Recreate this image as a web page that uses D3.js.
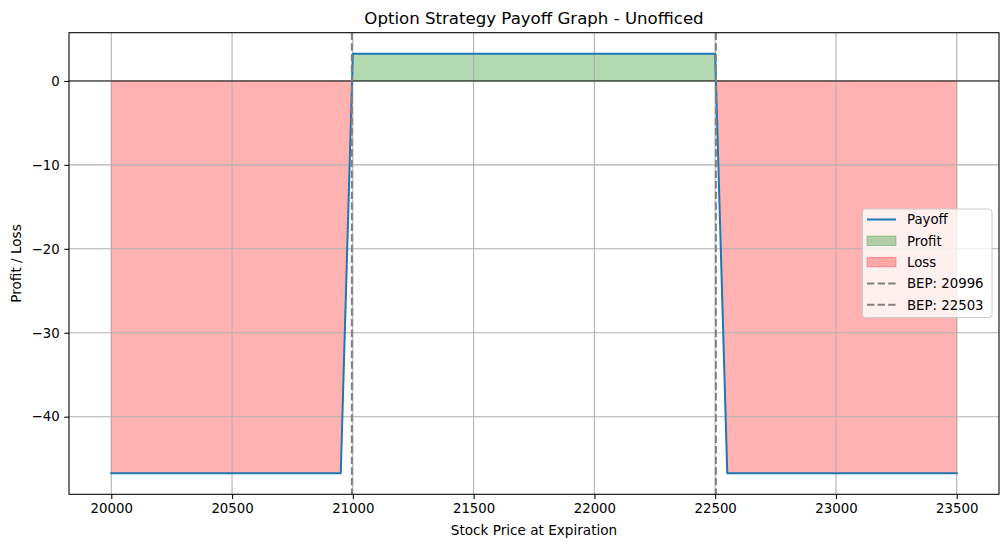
<!DOCTYPE html>
<html><head><meta charset="utf-8">
<script src="https://cdn.jsdelivr.net/npm/d3@7"></script>
<style>
html,body{margin:0;padding:0;background:#fff;}
text{font-family:"DejaVu Sans",sans-serif;fill:#000;}
</style></head>
<body>
<svg id="chart" width="1008" height="547"></svg>
<script>
// ---- data ----
const prices = [20000, 20950, 21000, 22500, 22550, 23500];
const payoff = [-46.75, -46.75, 3.25, 3.25, -46.75, -46.75];
const breakEvens = [20996, 22503];
const xTicks = [20000, 20500, 21000, 21500, 22000, 22500, 23000, 23500];
const yTicks = [0, -10, -20, -30, -40];
const title = "Option Strategy Payoff Graph - Unofficed";
const xLabel = "Stock Price at Expiration";
const yLabel = "Profit / Loss";
const legendLabels = ["Payoff", "Profit", "Loss", "BEP: 20996", "BEP: 22503"];

// ---- layout ----
const W = 1008, H = 547;
const m = {left: 69, right: 999, top: 32.7, bottom: 494.3};
const svg = d3.select("#chart");

const x = d3.scaleLinear().domain([19825, 23675]).range([m.left, m.right]);
const y = d3.scaleLinear().domain([-49.25, 5.75]).range([m.bottom, m.top]);

const pts = prices.map((p, i) => ({x: p, y: payoff[i]}));
// add zero-crossing points for fill interpolation
const filled = [];
for (let i = 0; i < pts.length; i++) {
  filled.push(pts[i]);
  if (i < pts.length - 1) {
    const a = pts[i], b = pts[i + 1];
    if ((a.y < 0 && b.y > 0) || (a.y > 0 && b.y < 0)) {
      const t = a.y / (a.y - b.y);
      filled.push({x: a.x + t * (b.x - a.x), y: 0});
    }
  }
}

svg.append("defs").append("clipPath").attr("id", "clip")
  .append("rect").attr("x", m.left).attr("y", m.top)
  .attr("width", m.right - m.left).attr("height", m.bottom - m.top);

const plot = svg.append("g").attr("clip-path", "url(#clip)");

// fills
const lossArea = d3.area().x(d => x(d.x)).y0(y(0)).y1(d => y(Math.min(d.y, 0)))
  .defined(d => d.y <= 0);
const profitArea = d3.area().x(d => x(d.x)).y0(y(0)).y1(d => y(Math.max(d.y, 0)))
  .defined(d => d.y >= 0);
plot.append("path").datum(filled).attr("d", lossArea)
  .attr("fill", "rgb(255,0,0)").attr("fill-opacity", 0.3)
  .attr("stroke", "rgb(255,0,0)").attr("stroke-opacity", 0.3).attr("stroke-width", 1);
plot.append("path").datum(filled).attr("d", profitArea)
  .attr("fill", "rgb(0,128,0)").attr("fill-opacity", 0.3)
  .attr("stroke", "rgb(0,128,0)").attr("stroke-opacity", 0.3).attr("stroke-width", 1);

// grid (above fills, as in matplotlib)
const grid = plot.append("g");
grid.selectAll(".gx").data(xTicks).join("line")
  .attr("x1", d => x(d)).attr("x2", d => x(d))
  .attr("y1", m.top).attr("y2", m.bottom)
  .attr("stroke", "#b0b0b0").attr("stroke-width", 1.07);
grid.selectAll(".gy").data(yTicks).join("line")
  .attr("y1", d => y(d)).attr("y2", d => y(d))
  .attr("x1", m.left).attr("x2", m.right)
  .attr("stroke", "#b0b0b0").attr("stroke-width", 1.07);

// zero line
plot.append("line").attr("x1", m.left).attr("x2", m.right)
  .attr("y1", y(0)).attr("y2", y(0))
  .attr("stroke", "#000").attr("stroke-width", 0.9);

// payoff line
plot.append("path").datum(pts)
  .attr("d", d3.line().x(d => x(d.x)).y(d => y(d.y)))
  .attr("fill", "none").attr("stroke", "#1f77b4").attr("stroke-width", 2)
  .attr("stroke-linejoin", "round").attr("stroke-linecap", "square");

// BEP lines
plot.selectAll(".bep").data(breakEvens).join("line")
  .attr("x1", d => x(d)).attr("x2", d => x(d))
  .attr("y1", m.top).attr("y2", m.bottom)
  .attr("stroke", "#808080").attr("stroke-width", 2)
  .attr("stroke-dasharray", "7.4,3.2");

// axes
const xAxis = svg.append("g").attr("transform", `translate(0,${m.bottom})`)
  .call(d3.axisBottom(x).tickValues(xTicks).tickFormat(d3.format("d")).tickSizeOuter(0).tickSize(4.7).tickPadding(4.7));
const yAxis = svg.append("g").attr("transform", `translate(${m.left},0)`)
  .call(d3.axisLeft(y).tickValues(yTicks).tickFormat(d => d < 0 ? "\u2212" + Math.abs(d) : d).tickSizeOuter(0).tickSize(4.7).tickPadding(4.7));
[xAxis, yAxis].forEach(a => {
  a.select(".domain").remove();
  a.selectAll(".tick line").attr("stroke", "#000").attr("stroke-width", 1.07);
  a.selectAll(".tick text").style("font-size", "13.3px").style("font-family", "DejaVu Sans");
});

// frame
svg.append("rect").attr("x", m.left).attr("y", m.top)
  .attr("width", m.right - m.left).attr("height", m.bottom - m.top)
  .attr("fill", "none").attr("stroke", "#000").attr("stroke-width", 1.07);

// titles
svg.append("text").attr("x", (m.left + m.right) / 2).attr("y", 24)
  .attr("text-anchor", "middle").style("font-size", "16.6px").text(title);
svg.append("text").attr("x", (m.left + m.right) / 2).attr("y", 535)
  .attr("text-anchor", "middle").style("font-size", "13.6px").text(xLabel);
svg.append("text").attr("transform", `translate(21,${(m.top + m.bottom) / 2}) rotate(-90)`)
  .attr("text-anchor", "middle").style("font-size", "13.6px").text(yLabel);

// legend
const lg = svg.append("g");
lg.append("rect").attr("x", 862.5).attr("y", 209).attr("width", 129.5).attr("height", 108.5)
  .attr("rx", 3).attr("fill", "#fff").attr("fill-opacity", 0.8)
  .attr("stroke", "#cccccc").attr("stroke-width", 1);
const rowY = i => 219.5 + i * 21.3;
const kinds = ["line", "profit", "loss", "bep", "bep"];
kinds.forEach((k, i) => {
  const cy = rowY(i);
  if (k === "line") {
    lg.append("line").attr("x1", 867).attr("x2", 896).attr("y1", cy).attr("y2", cy)
      .attr("stroke", "#1f77b4").attr("stroke-width", 2);
  } else if (k === "bep") {
    lg.append("line").attr("x1", 867).attr("x2", 896).attr("y1", cy).attr("y2", cy)
      .attr("stroke", "#808080").attr("stroke-width", 2).attr("stroke-dasharray", "7.4,3.2");
  } else {
    const c = k === "profit" ? "rgb(0,128,0)" : "rgb(255,0,0)";
    lg.append("rect").attr("x", 867).attr("y", cy - 4.7).attr("width", 29).attr("height", 9.4)
      .attr("fill", c).attr("fill-opacity", 0.3).attr("stroke", c).attr("stroke-opacity", 0.3);
  }
  lg.append("text").attr("x", 907).attr("y", cy + 4.8).style("font-size", "13.3px").text(legendLabels[i]);
});
</script>
</body></html>
